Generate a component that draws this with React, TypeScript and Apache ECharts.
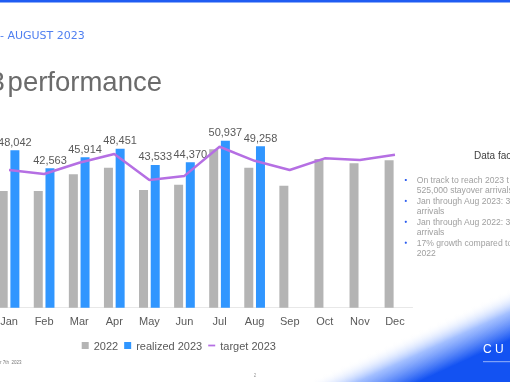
import React, { useEffect, useRef } from "react";
import * as echarts from "echarts";

const categories = ["Jan", "Feb", "Mar", "Apr", "May", "Jun", "Jul", "Aug", "Sep", "Oct", "Nov", "Dec"];
const values2022 = [35600, 35600, 40700, 42700, 35900, 37500, 48300, 42700, 37200, 45350, 44100, 45000];
const realized2023: (number | null)[] = [48042, 42563, 45914, 48451, 43533, 44370, 50937, 49258, null, null, null, null];
const target2023 = [42000, 40800, 44200, 46900, 38950, 40200, 49100, 44800, 42000, 45560, 45050, 46670];

const bulletLines = [
  { text: "On track to reach 2023 t", bullet: true },
  { text: "525,000 stayover arrivals", bullet: false },
  { text: "Jan through Aug 2023: 3", bullet: true },
  { text: "arrivals", bullet: false },
  { text: "Jan through Aug 2022: 3", bullet: true },
  { text: "arrivals", bullet: false },
  { text: "17% growth compared to", bullet: true },
  { text: "2022", bullet: false },
];

const FONT = "'Liberation Sans', Arial, sans-serif";
const OX = 20; // the chart canvas starts 20px left of the window

export default function App() {
  const ref = useRef<HTMLDivElement>(null);
  useEffect(() => {
    if (!ref.current) return;
    const chart = echarts.init(ref.current, undefined, { renderer: "svg" });

    const nx = 0.416, ny = 0.91, mx = 440 + OX, my = 350;
    const graphics: any[] = [
      { type: "rect", shape: { x: 0, y: 0, width: 510 + OX, height: 2.6 }, style: { fill: "#1f5cf2" }, z: 10 },
      {
        type: "text", x: OX, y: 35,
        style: { text: "- AUGUST 2023", fontSize: 11, fontFamily: "'DejaVu Sans', sans-serif", fill: "#4f7ff0", verticalAlign: "middle" },
      },
      {
        type: "text", x: OX - 10.5, y: 81,
        style: { text: "3", fontSize: 27.5, fontFamily: FONT, fill: "#6b6b6b", verticalAlign: "middle" },
      },
      {
        type: "text", x: OX + 7.6, y: 81,
        style: { text: "performance", fontSize: 27.5, fontFamily: FONT, fill: "#6b6b6b", verticalAlign: "middle" },
      },
      {
        type: "text", x: OX + 474, y: 155,
        style: { text: "Data facts", fontSize: 10, fontFamily: FONT, fill: "#404040", verticalAlign: "middle" },
      },
      {
        type: "rect", shape: { x: 280 + OX, y: 285, width: 230, height: 97 },
        style: {
          fill: new echarts.graphic.LinearGradient(mx - 26 * nx, my - 26 * ny, mx + 20 * nx, my + 20 * ny, [
            { offset: 0, color: "rgba(255,255,255,0)" },
            { offset: 0.45, color: "rgba(140,175,255,0.8)" },
            { offset: 1, color: "#1352f2" },
          ], true),
        },
        z: -1,
      },
      {
        type: "text", x: OX + 483, y: 349,
        style: { text: "C U", fontSize: 12, fontFamily: FONT, fill: "#ffffff", verticalAlign: "middle" },
      },
      { type: "line", shape: { x1: OX + 483, y1: 361.7, x2: OX + 510, y2: 361.7 }, style: { stroke: "rgba(255,255,255,0.7)", lineWidth: 0.8 } },
      {
        type: "text", x: OX, y: 362,
        style: { text: "r 7th  2023", fontSize: 4.5, fontFamily: FONT, fill: "#777", verticalAlign: "middle" },
      },
      {
        type: "text", x: OX + 255, y: 375,
        style: { text: "2", fontSize: 4.5, fontFamily: FONT, fill: "#999", verticalAlign: "middle", align: "center" },
      },
    ];
    bulletLines.forEach((l, i) => {
      const y = 180 + i * 10.45;
      graphics.push({
        type: "text", x: OX + 416.7, y,
        style: { text: l.text, fontSize: 8.6, fontFamily: FONT, fill: "#a0a0a0", verticalAlign: "middle" },
      });
      if (l.bullet) {
        graphics.push({ type: "circle", shape: { cx: OX + 405.8, cy: y, r: 1.1 }, style: { fill: "#2a5cf0" } });
      }
    });

    chart.setOption({
      animation: false,
      textStyle: { fontFamily: FONT },
      grid: { left: OX - 8.5, right: 97.5, top: 111, bottom: 74.3, containLabel: false },
      legend: {
        left: OX + 76.7, top: 335, itemWidth: 7, itemHeight: 7, itemGap: 6,
        textStyle: { fontSize: 11, color: "#595959", fontFamily: FONT },
        data: [
          { name: "2022", icon: "rect" },
          { name: "realized 2023", icon: "rect" },
          { name: "target 2023", icon: "path://M0,0 L8,0 L8,2 L0,2 Z" },
        ],
      },
      xAxis: {
        type: "category",
        data: categories,
        axisTick: { show: false },
        axisLine: { lineStyle: { color: "#e8e8e8", width: 1 } },
        axisLabel: { color: "#595959", fontSize: 11, margin: 8, fontFamily: FONT },
      },
      yAxis: { type: "value", min: 0, max: 60000, show: false, splitLine: { show: false } },
      series: [
        {
          name: "2022", type: "bar", data: values2022, barWidth: 9, barGap: "30%",
          itemStyle: { color: "#b4b4b4" },
        },
        {
          name: "realized 2023", type: "bar", data: realized2023, barWidth: 9,
          itemStyle: { color: "#3096ff" },
          label: {
            show: true, position: "top", distance: 3, fontSize: 11, color: "#595959", fontFamily: FONT,
            formatter: (p: any) => (p.value == null ? "" : Number(p.value).toLocaleString("en-US")),
          },
        },
        {
          name: "target 2023", type: "line", data: target2023, symbol: "none", showSymbol: false,
          lineStyle: { color: "#b56fe3", width: 2.5 }, itemStyle: { color: "#b56fe3" }, z: 5,
        },
      ],
      graphic: graphics,
    });
    return () => chart.dispose();
  }, []);
  return <div ref={ref} style={{ position: "fixed", left: -OX, top: 0, width: 510 + OX, height: 382 }} />;
}
